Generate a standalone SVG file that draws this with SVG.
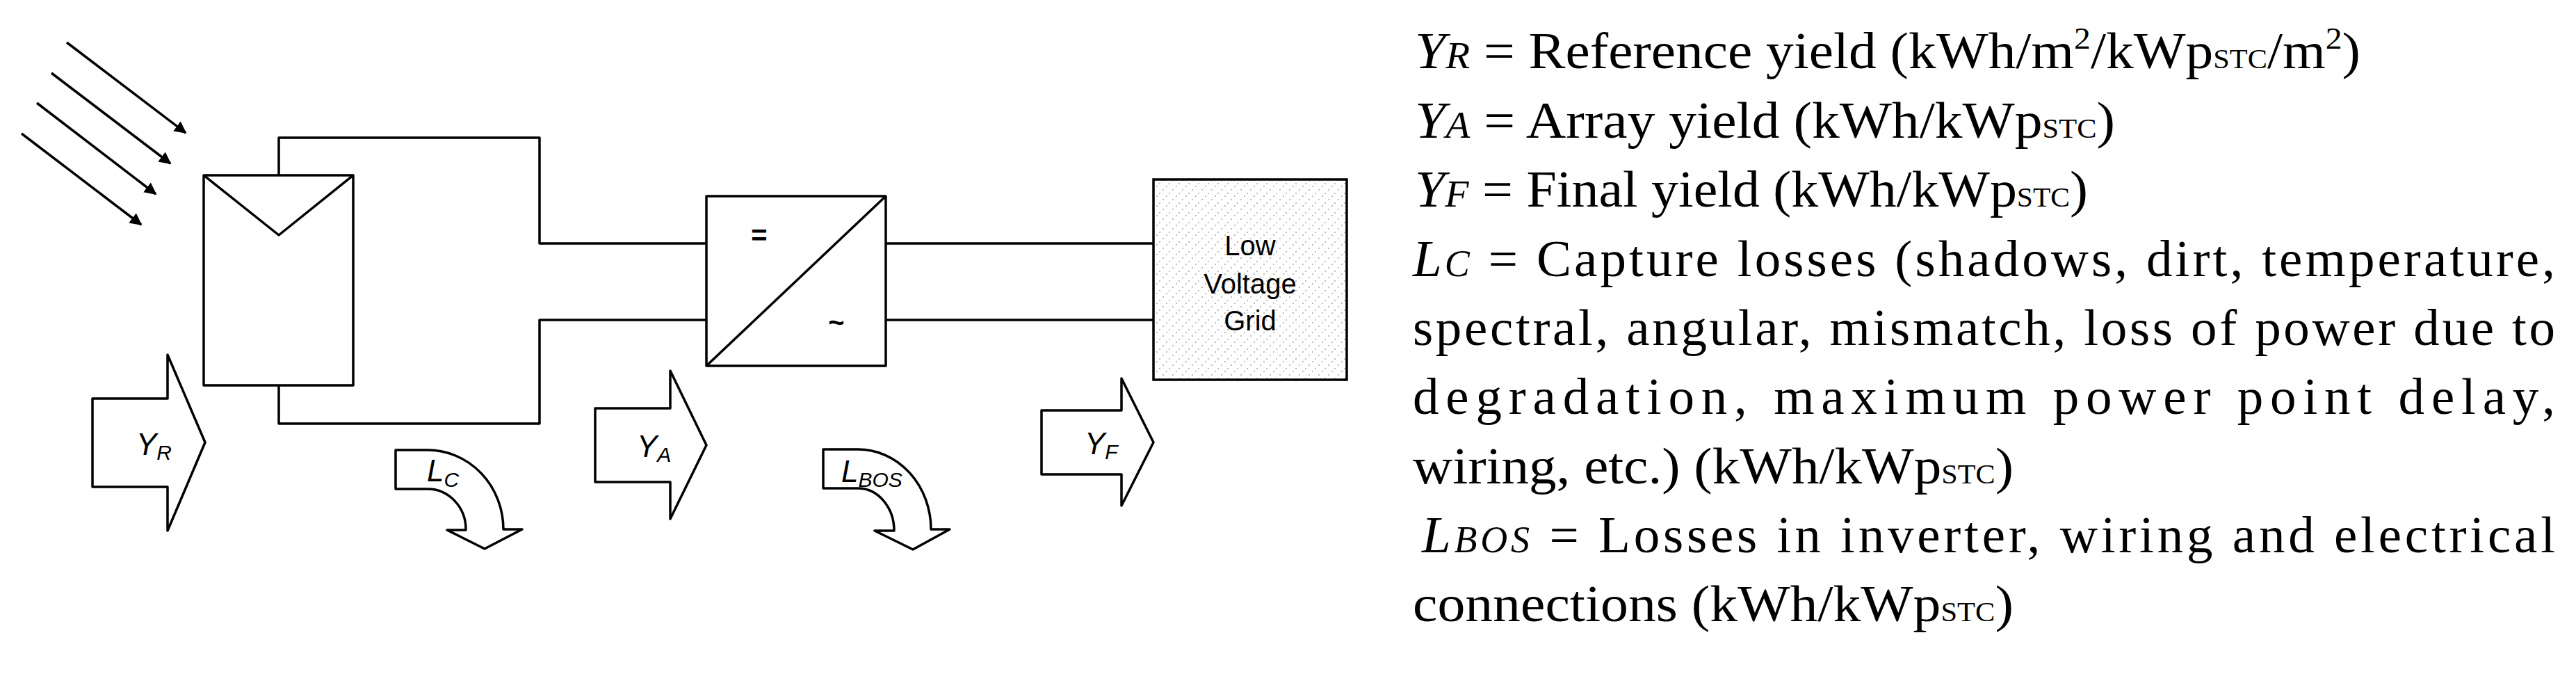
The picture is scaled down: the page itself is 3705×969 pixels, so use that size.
<svg xmlns="http://www.w3.org/2000/svg" width="3705" height="969" viewBox="0 0 3705 969">
<defs>
<marker id="ah" viewBox="0 0 10 10" refX="9" refY="5" markerWidth="5" markerHeight="5" markerUnits="strokeWidth" orient="auto"><path d="M0,0 L10,5 L0,10 Z" fill="#000"/></marker>
<pattern id="dots" width="14" height="14" patternUnits="userSpaceOnUse"><rect width="14" height="14" fill="#fff"/><circle cx="2" cy="12" r="1" fill="#aaa"/><circle cx="7" cy="7" r="1" fill="#aaa"/><circle cx="12" cy="2" r="1" fill="#aaa"/></pattern>
<style>
.s{fill:none;stroke:#000;stroke-width:3.5;stroke-linejoin:round}
.f{fill:#fff;stroke:#000;stroke-width:3.5;stroke-linejoin:round}
.lab{font-family:"Liberation Sans",Arial,sans-serif;font-style:italic;font-size:44px}
.sub{font-size:30px}
.g{font-family:"Liberation Sans",Arial,sans-serif;font-size:40px;text-anchor:middle}
.t{font-family:"Liberation Serif","Times New Roman",serif;font-size:75px}
.i{font-style:italic;font-size:54px}
.sm{font-size:40px}
.sp{font-size:45px}
</style>
</defs>
<g id="sun">
<line class="s" x1="96" y1="61" x2="267" y2="191" marker-end="url(#ah)"/>
<line class="s" x1="74" y1="105" x2="245" y2="235" marker-end="url(#ah)"/>
<line class="s" x1="53" y1="148" x2="224" y2="279" marker-end="url(#ah)"/>
<line class="s" x1="31" y1="192" x2="203" y2="323" marker-end="url(#ah)"/>
</g>
<g id="connectors">
<path class="s" d="M401,252 V198 H776 V350 H1016"/>
<path class="s" d="M401,554 V609 H776 V460 H1016"/>
<path class="s" d="M1274,350 H1659 M1274,460 H1659"/>
</g>
<g id="panel">
<rect class="f" x="293" y="252" width="215" height="302"/>
<path class="s" d="M293,252 L401,338 L508,252"/>
</g>
<g id="inverter">
<rect class="f" x="1016" y="282" width="258" height="244"/>
<path class="s" d="M1016,526 L1274,282"/>
<text x="1092" y="352" font-family="Liberation Sans,sans-serif" font-size="40" font-weight="bold" text-anchor="middle">=</text>
<text x="1203" y="477" font-family="Liberation Sans,sans-serif" font-size="40" font-weight="bold" text-anchor="middle">~</text>
</g>
<g id="grid">
<rect x="1659" y="258" width="278" height="288" fill="url(#dots)" stroke="#000" stroke-width="3.5"/>
<text class="g" x="1798" y="367">Low</text>
<text class="g" x="1798" y="422">Voltage</text>
<text class="g" x="1798" y="475">Grid</text>
</g>
<g id="YR">
<path class="f" d="M133,573 H241 V510 L295,636 L241,763 V700 H133 Z"/>
<text class="lab" x="196" y="654">Y<tspan class="sub" dy="7">R</tspan></text>
</g>
<g id="YA">
<path class="f" d="M856,587 H964 V533 L1016,640 L964,746 V693 H856 Z"/>
<text class="lab" x="916" y="657">Y<tspan class="sub" dy="7">A</tspan></text>
</g>
<g id="YF">
<path class="f" d="M1498,590 H1613 V544 L1659,636 L1613,727 V682 H1498 Z"/>
<text class="lab" x="1560" y="653">Y<tspan class="sub" dy="7">F</tspan></text>
</g>
<g id="LC">
<path class="f" d="M569,647 H615 A109,114 0 0 1 724,761 H751 L697,789 L643,762 H670 A55,58 0 0 0 615,703 H569 Z"/>
<text class="lab" x="614" y="692">L<tspan class="sub" dy="8">C</tspan></text>
</g>
<g id="LBOS">
<path class="f" d="M1184,646 H1234 A105,115 0 0 1 1339,761 H1366 L1313,790 L1258,763 H1286 A52,61 0 0 0 1234,702 H1184 Z"/>
<text class="lab" x="1210" y="693">L<tspan class="sub" dy="7">BOS</tspan></text>
</g>
<g id="legend" class="t">
<text x="2035" y="98" textLength="1360" lengthAdjust="spacingAndGlyphs"><tspan font-style="italic">Y</tspan><tspan class="i">R</tspan> = Reference yield (kWh/m<tspan class="sp" dy="-28">2</tspan><tspan dy="28">/kWp</tspan><tspan class="sm">STC</tspan>/m<tspan class="sp" dy="-28">2</tspan><tspan dy="28">)</tspan></text>
<text x="2035" y="198" textLength="1007" lengthAdjust="spacingAndGlyphs"><tspan font-style="italic">Y</tspan><tspan class="i">A</tspan> = Array yield (kWh/kWp<tspan class="sm">STC</tspan>)</text>
<text x="2035" y="297" textLength="968" lengthAdjust="spacingAndGlyphs"><tspan font-style="italic">Y</tspan><tspan class="i">F</tspan> = Final yield (kWh/kWp<tspan class="sm">STC</tspan>)</text>
<text x="2032" y="397" textLength="1643" lengthAdjust="spacing"><tspan font-style="italic">L</tspan><tspan class="i">C</tspan> = Capture losses (shadows, dirt, temperature,</text>
<text x="2032" y="496" textLength="1643" lengthAdjust="spacing">spectral, angular, mismatch, loss of power due to</text>
<text x="2032" y="595" textLength="1643" lengthAdjust="spacing">degradation, maximum power point delay,</text>
<text x="2032" y="695" textLength="864" lengthAdjust="spacingAndGlyphs">wiring, etc.) (kWh/kWp<tspan class="sm">STC</tspan>)</text>
<text x="2045" y="794" textLength="1630" lengthAdjust="spacing"><tspan font-style="italic">L</tspan><tspan class="i">BOS</tspan> = Losses in inverter, wiring and electrical</text>
<text x="2032" y="893" textLength="864" lengthAdjust="spacingAndGlyphs">connections (kWh/kWp<tspan class="sm">STC</tspan>)</text>
</g>
</svg>
